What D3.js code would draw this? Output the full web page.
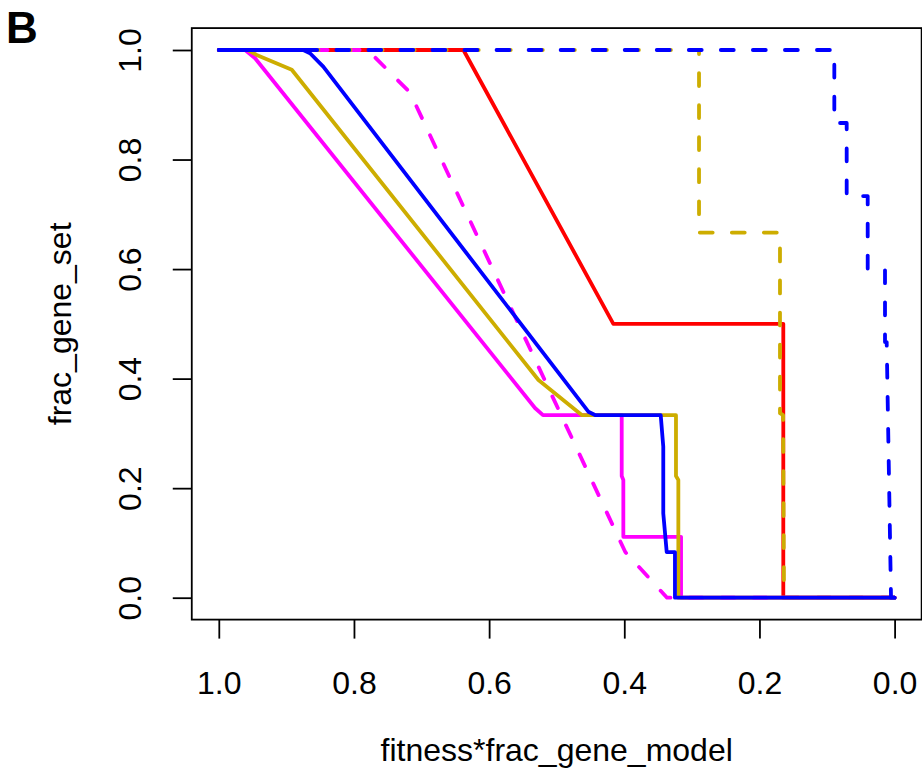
<!DOCTYPE html>
<html>
<head>
<meta charset="utf-8">
<script src="https://cdn.jsdelivr.net/npm/d3@7"></script>
<style>
  html, body { margin: 0; padding: 0; background: #fff; }
  text { font-family: "Liberation Sans", Arial, Helvetica, sans-serif; fill: #000; }
</style>
</head>
<body>
<svg id="chart" width="922" height="773"></svg>
<script>
// ---- data ----
const xTicks = [1.0, 0.8, 0.6, 0.4, 0.2, 0.0];
const yTicks = [0.0, 0.2, 0.4, 0.6, 0.8, 1.0];
const tickFormat = d => d.toFixed(1);

const redSolidX = [1, 0.638, 0.4162, 0.1647, 0.1647, 0];
const redSolidY = [1, 1, 0.5, 0.5, 0, 0];

const magentaSolidX = [1, 0.961, 0.9463, 0.5321, 0.5203, 0.4038, 0.4038, 0.4014, 0.4014, 0.316, 0.316, 0];
const magentaSolidY = [1, 1, 0.985, 0.3464, 0.3333, 0.3333, 0.222, 0.215, 0.1111, 0.1111, 0, 0];

const goldSolidX = [1, 0.957, 0.944, 0.892, 0.527, 0.463, 0.3235, 0.3235, 0.320, 0.320, 0];
const goldSolidY = [1, 1, 0.991, 0.964, 0.3975, 0.3336, 0.3333, 0.222, 0.215, 0, 0];

const magentaDashedX = [1, 0.7797, 0.7171, 0.3985, 0.3367, 0];
const magentaDashedY = [1, 1, 0.9224, 0.0834, 0, 0];

const goldDashedX = [1, 0.2894, 0.2894, 0.1696, 0.1696, 0.165, 0.1637, 0];
const goldDashedY = [1, 1, 0.6667, 0.6667, 0.337, 0.3333, 0, 0];

const blueDashedX = [1, 0.0892, 0.0892, 0.0709, 0.0709, 0.0398, 0.0398, 0.0142, 0.0142, 0.0117, 0.0053, 0];
const blueDashedY = [1, 1, 0.8667, 0.8667, 0.7333, 0.7333, 0.6, 0.6, 0.4667, 0.4667, 0, 0];

const blueSolidX = [1, 0.875, 0.865, 0.8454, 0.4532, 0.4433, 0.3461, 0.3423, 0.3423, 0.3372, 0.325, 0.325, 0];
const blueSolidY = [1, 1, 0.994, 0.9695, 0.3396, 0.3336, 0.3333, 0.2757, 0.154, 0.0833, 0.0833, 0, 0];

// drawing order (bottom to top)
const series = [
  {x: redSolidX, y: redSolidY, color: "#FF0000", dashed: false, offset: 0},
  {x: magentaSolidX, y: magentaSolidY, color: "#FF00FF", dashed: false, offset: 0},
  {x: goldSolidX, y: goldSolidY, color: "#CDAD00", dashed: false, offset: 0},
  {x: magentaDashedX, y: magentaDashedY, color: "#FF00FF", dashed: true, offset: 0.26},
  {x: goldDashedX, y: goldDashedY, color: "#CDAD00", dashed: true, offset: 9.3},
  {x: blueDashedX, y: blueDashedY, color: "#0000FF", dashed: true, offset: 10.6},
  {x: blueSolidX, y: blueSolidY, color: "#0000FF", dashed: false, offset: 0}
];

// ---- layout ----
const svg = d3.select("#chart");
svg.append("rect").attr("width", 922).attr("height", 773).attr("fill", "#fff");

const x = d3.scaleLinear().domain([1, 0]).range([218.8, 894.6]);
const y = d3.scaleLinear().domain([0, 1]).range([597.7, 50]);

const boxL = x(1.04), boxR = x(-0.04), boxT = y(1.04), boxB = y(-0.04);

const line = d3.line().x(d => x(d[0])).y(d => y(d[1]));

const g = svg.append("g");
series.forEach(s => {
  const pts = s.x.map((v, i) => [v, s.y[i]]);
  const p = g.append("path")
    .attr("d", line(pts))
    .attr("fill", "none")
    .attr("stroke", s.color)
    .attr("stroke-width", 3.8)
    .attr("stroke-linejoin", "round")
    .attr("stroke-linecap", "round");
  if (s.dashed) {
    p.attr("stroke-dasharray", "12.9,19.14").attr("stroke-dashoffset", s.offset);
  }
});

// box
svg.append("rect")
  .attr("x", boxL).attr("y", boxT)
  .attr("width", boxR - boxL).attr("height", boxB - boxT)
  .attr("fill", "none").attr("stroke", "#000").attr("stroke-width", 1.8);

const FS = "32px";

// x axis ticks and labels
const xAxis = d3.axisBottom(x).tickValues(xTicks).tickFormat(tickFormat).tickSize(19).tickPadding(0);
const xg = svg.append("g").attr("transform", `translate(0,${boxB})`).call(xAxis);
xg.select(".domain").remove();
xg.selectAll(".tick line").attr("stroke", "#000").attr("stroke-width", 1.8);
xg.selectAll(".tick text")
  .attr("y", 683 - boxB).attr("dy", null)
  .attr("dominant-baseline", "central")
  .style("font-family", '"Liberation Sans", Arial, sans-serif')
  .style("font-size", FS).attr("fill", "#000");

// y axis ticks and labels
const yAxis = d3.axisLeft(y).tickValues(yTicks).tickFormat(tickFormat).tickSize(19).tickPadding(0);
const yg = svg.append("g").attr("transform", `translate(${boxL},0)`).call(yAxis);
yg.select(".domain").remove();
yg.selectAll(".tick line").attr("stroke", "#000").attr("stroke-width", 1.8);
yg.selectAll(".tick text")
  .attr("x", null).attr("dy", null)
  .attr("text-anchor", "middle")
  .attr("dominant-baseline", "central")
  .attr("transform", `translate(${130 - boxL},0) rotate(-90)`)
  .style("font-family", '"Liberation Sans", Arial, sans-serif')
  .style("font-size", FS).attr("fill", "#000");

// axis titles
svg.append("text")
  .attr("x", (boxL + boxR) / 2).attr("y", 750)
  .attr("text-anchor", "middle").attr("dominant-baseline", "central")
  .style("font-size", FS)
  .text("fitness*frac_gene_model");

svg.append("text")
  .attr("transform", `translate(60,${(boxT + boxB) / 2}) rotate(-90)`)
  .attr("text-anchor", "middle").attr("dominant-baseline", "central")
  .style("font-size", FS)
  .text("frac_gene_set");

// panel letter
svg.append("text")
  .attr("x", 6).attr("y", 43)
  .style("font-size", "44px").style("font-weight", "bold")
  .text("B");
</script>
</body>
</html>
